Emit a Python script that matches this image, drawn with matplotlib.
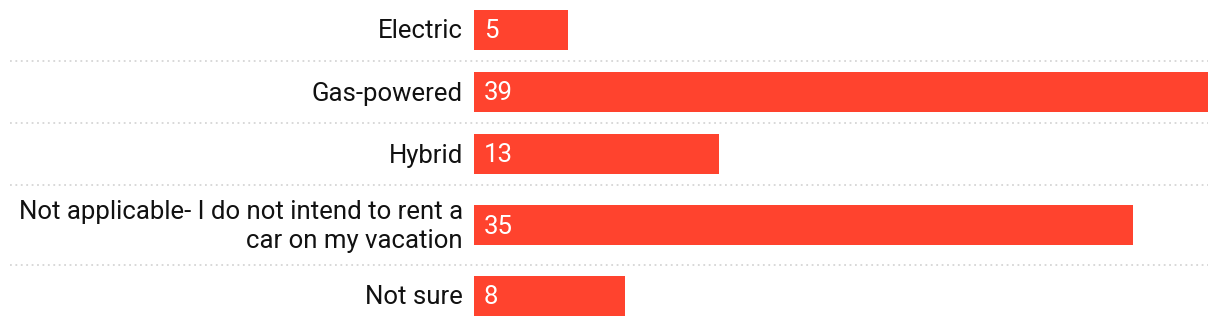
import matplotlib.pyplot as plt

plt.rcParams['font.family'] = ['Roboto', 'DejaVu Sans']

categories = ['Electric', 'Gas-powered', 'Hybrid',
              'Not applicable- I do not intend to rent a\ncar on my vacation', 'Not sure']
values = [5, 39, 13, 35, 8]

W, H = 1220, 326
fig = plt.figure(figsize=(W / 100, H / 100), dpi=100)

# bar area in pixels
x0, x1 = 474, 1208
ax = fig.add_axes([x0 / W, 0, (x1 - x0) / W, 1])
ax.set_xlim(0, max(values))
ax.set_ylim(H, 0)
ax.axis('off')

px = max(values) / (x1 - x0)  # data units per pixel

# row heights depend on number of label lines
row_h = [62 + 18 * (c.count('\n')) for c in categories]
top = -1
centres, seps = [], []
for h in row_h:
    centres.append(top + h / 2)
    top += h
    seps.append(top)

ax.barh(centres, values, height=40, color='#FF432E')
for c, v, y in zip(categories, values, centres):
    ax.text(-11 * px, y + 1.5, c, ha='right', va='center', fontsize=18.5,
            color='#111111', linespacing=1.3, clip_on=False)
    ax.text(10 * px, y - 1, str(v), ha='left', va='center_baseline', fontsize=18.5,
            color='white')

for y in seps[:-1]:
    ax.plot([-(x0 - 10) * px, max(values)], [y, y], color='#d6d6d6',
            lw=1.3, ls=(0, (1, 2)), clip_on=False)

fig.savefig('out.png', dpi=100)
